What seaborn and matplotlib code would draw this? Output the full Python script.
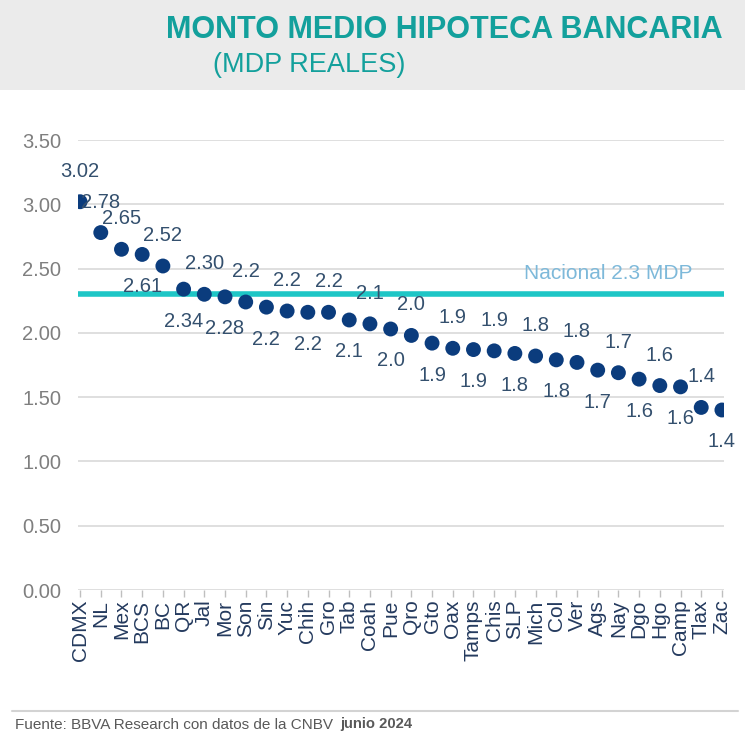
import matplotlib
matplotlib.use("Agg")
import matplotlib.pyplot as plt
import seaborn as sns
import pandas as pd
from matplotlib.patches import Rectangle
from matplotlib.lines import Line2D

# ---- data ----
states = ["CDMX", "NL", "Mex", "BCS", "BC", "QR", "Jal", "Mor", "Son", "Sin", "Yuc",
          "Chih", "Gro", "Tab", "Coah", "Pue", "Qro", "Gto", "Oax", "Tamps", "Chis",
          "SLP", "Mich", "Col", "Ver", "Ags", "Nay", "Dgo", "Hgo", "Camp", "Tlax", "Zac"]
values = [3.02, 2.78, 2.65, 2.61, 2.52, 2.34, 2.30, 2.28, 2.24, 2.20, 2.17,
          2.16, 2.16, 2.10, 2.07, 2.03, 1.98, 1.92, 1.88, 1.87, 1.86,
          1.84, 1.82, 1.79, 1.77, 1.71, 1.69, 1.64, 1.59, 1.58, 1.42, 1.40]
value_labels = ["3.02", "2.78", "2.65", "2.61", "2.52", "2.34", "2.30", "2.28", "2.2", "2.2", "2.2",
                "2.2", "2.2", "2.1", "2.1", "2.0", "2.0", "1.9", "1.9", "1.9", "1.9",
                "1.8", "1.8", "1.8", "1.8", "1.7", "1.7", "1.6", "1.6", "1.6", "1.4", "1.4"]
national_value = 2.3
national_label = "Nacional 2.3 MDP"
y_ticks = [0.0, 0.5, 1.0, 1.5, 2.0, 2.5, 3.0, 3.5]
title = "MONTO MEDIO HIPOTECA BANCARIA"
subtitle = "(MDP REALES)"
source = "Fuente: BBVA Research con datos de la CNBV"
date_note = "junio 2024"

df = pd.DataFrame({"state": states, "value": values})

sns.set_theme(style="white")
plt.rcParams["font.family"] = ["Liberation Sans", "DejaVu Sans"]

W, H = 750, 743
fig = plt.figure(figsize=(W / 100, H / 100), dpi=100)
fig.patch.set_facecolor("white")

# header band
fig.patches.append(Rectangle((0, (H - 90) / H), 745 / W, 90 / H, transform=fig.transFigure,
                             facecolor="#EBEBEB", edgecolor="none", zorder=0))

ax = fig.add_axes([78 / W, (H - 590) / H, (724 - 78) / W, 450 / H])
ax.set_facecolor("white")

ax.axhline(national_value, color="#1EC6C6", lw=4, zorder=2)

sns.scatterplot(data=df, x="state", y="value", s=115, color="#0B3C7D",
                edgecolor="none", linewidth=0, ax=ax, zorder=3)

for i, (v, lbl) in enumerate(zip(values, value_labels)):
    below = i >= 3 and i % 2 == 1
    dy = -23 if below else 22
    ax.annotate(lbl, (i, v), xytext=(0, dy), textcoords="offset points",
                ha="center", va="center", fontsize=14.5, color="#34506E", zorder=4)

ax.text(25.5, 2.465, national_label, ha="center", va="center", fontsize=15,
        color="#7DB9DA", zorder=1)

ax.set_xlim(-0.1, 31.1)
ax.set_ylim(0, 3.5)
ax.set_yticks(y_ticks)
ax.set_yticklabels([f"{t:.2f}" for t in y_ticks])
ax.set_xticks(range(len(states)))
ax.set_xticklabels(states)
ax.set_xlabel("")
ax.set_ylabel("")
ax.grid(axis="y", color="#D9D9D9", lw=1.2)
ax.grid(axis="x", visible=False)
ax.set_axisbelow(True)
for s in ax.spines.values():
    s.set_visible(False)
ax.tick_params(axis="y", length=0, pad=12, labelsize=14.5, labelcolor="#7F7F7F")
ax.tick_params(axis="x", length=5, width=1, color="#BFBFBF", direction="out",
               labelrotation=90, labelsize=15, labelcolor="#243A5E", pad=2, bottom=True)

# titles
fig.text(444.5 / W, (H - 30) / H, title, ha="center", va="center", fontsize=22,
         fontweight="bold", color="#13A09C")
fig.text(309 / W, (H - 65) / H, subtitle, ha="center", va="center", fontsize=19.5,
         color="#13A09C")

# footer
fig.lines.append(Line2D([12 / W, 738 / W], [(H - 711) / H] * 2, transform=fig.transFigure,
                        color="#D3D3D3", lw=1.5))
fig.text(15 / W, (H - 725) / H, source, ha="left", va="center", fontsize=11, color="#595959")
fig.text(340 / W, (H - 724) / H, date_note, ha="left", va="center", fontsize=10.6,
         fontweight="bold", color="#595959")

fig.savefig("out.png", dpi=100)
